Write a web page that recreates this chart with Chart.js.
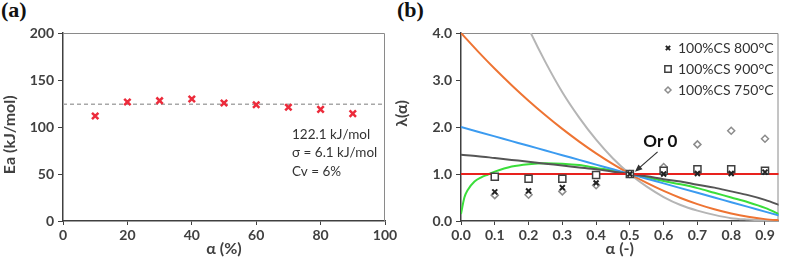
<!DOCTYPE html>
<html>
<head>
<meta charset="utf-8">
<script src="https://cdn.jsdelivr.net/npm/chart.js@4/dist/chart.umd.min.js"></script>
<style>
  body { margin: 0; background: #fff; width: 785px; height: 274px; overflow: hidden; position: relative; }
  .tag { position: absolute; top: -3px; font: bold 22px "Liberation Serif", serif; color: #111; }
  canvas { position: absolute; top: 0; }
</style>
</head>
<body>
<div class="tag" style="left:1px">(a)</div>
<div class="tag" style="left:397px">(b)</div>
<canvas id="chartA" width="400" height="274" style="left:0"></canvas>
<canvas id="chartB" width="393" height="274" style="left:392px"></canvas>
<script>
// panel (a): activation energy vs conversion
const alphaPct = [10, 20, 30, 40, 50, 60, 70, 80, 90];
const eaValues = [111.7, 126.6, 128.0, 129.8, 125.5, 123.7, 121.0, 118.8, 114.2];
const meanX = [0, 100];
const meanEa = [124.1, 124.1];
const statsText = ["122.1 kJ/mol", "σ = 6.1 kJ/mol", "Cv = 6%"];

// panel (b): master plots lambda(alpha)
const alphaGrid = [0, 0.05, 0.1, 0.15, 0.2, 0.25, 0.3, 0.35, 0.4, 0.45, 0.5, 0.55, 0.6, 0.65, 0.7, 0.75, 0.8, 0.85, 0.9, 0.95];
const zeroOrder = [1, 1, 1, 1, 1, 1, 1, 1, 1, 1, 1, 1, 1, 1, 1, 1, 1, 1, 1, 1];
const secondOrder = [4.0, 3.61, 3.24, 2.89, 2.56, 2.25, 1.96, 1.69, 1.44, 1.21, 1.0, 0.81, 0.64, 0.49, 0.36, 0.25, 0.16, 0.09, 0.04, 0.01];
const thirdOrder = [8.0, 6.86, 5.83, 4.91, 4.10, 3.38, 2.74, 2.20, 1.73, 1.33, 1.0, 0.73, 0.51, 0.34, 0.22, 0.13, 0.06, 0.03, 0.01, 0.0];
const firstOrder = [2.0, 1.9, 1.8, 1.7, 1.6, 1.5, 1.4, 1.3, 1.2, 1.1, 1.0, 0.9, 0.8, 0.7, 0.6, 0.5, 0.4, 0.3, 0.2, 0.1];
const halfOrder = [1.41, 1.38, 1.34, 1.30, 1.26, 1.22, 1.18, 1.14, 1.10, 1.05, 1.0, 0.95, 0.89, 0.84, 0.77, 0.71, 0.63, 0.55, 0.45, 0.32];
const avramiAlpha = [0, 0.01, 0.02, 0.04, 0.06, 0.08, 0.1, 0.15, 0.2, 0.25, 0.3, 0.35, 0.4, 0.45, 0.5, 0.55, 0.6, 0.65, 0.7, 0.75, 0.8, 0.85, 0.9, 0.95];
const avramiCurve = [0.15, 0.5, 0.66, 0.84, 0.93, 0.99, 1.05, 1.16, 1.21, 1.23, 1.22, 1.19, 1.13, 1.07, 1.0, 0.93, 0.85, 0.78, 0.70, 0.60, 0.50, 0.40, 0.28, 0.12];

const sampleAlpha = [0.1, 0.2, 0.3, 0.4, 0.5, 0.6, 0.7, 0.8, 0.9];
const cs800 = [0.62, 0.64, 0.71, 0.81, 1.0, 1.0, 1.01, 1.01, 1.04];
const cs900 = [0.94, 0.90, 0.90, 0.98, 1.0, 1.07, 1.10, 1.10, 1.07];
const cs750 = [0.55, 0.56, 0.63, 0.76, 1.0, 1.15, 1.63, 1.92, 1.75];

const toXY = (xs, ys) => xs.map((x, i) => ({ x: x, y: ys[i] }));

const TICK_FONT = { family: "Lato", size: 14, weight: "bold" };
const TITLE_FONT = { family: "Lato", size: 16, weight: "bold" };
const AXIS_DARK = "#404040";

function axis(min, max, step, digits, title, horizontal) {
  return {
    type: "linear",
    min: min,
    max: max,
    grid: { drawOnChartArea: false, drawTicks: true, tickLength: horizontal ? 4 : 5, color: AXIS_DARK },
    border: { color: AXIS_DARK, width: 1.5 },
    ticks: {
      stepSize: step,
      includeBounds: false,
      padding: horizontal ? 2 : 4,
      color: AXIS_DARK,
      font: TICK_FONT,
      callback: (v) => Number(v).toFixed(digits)
    },
    title: {
      display: true,
      text: title,
      color: AXIS_DARK,
      font: TITLE_FONT,
      padding: horizontal ? { top: 0, bottom: 16 } : { top: 0, bottom: 0 }
    },
    afterFit: (scale) => {
      if (horizontal) scale.height = 53;
    }
  };
}

// light frame on top and right of the plot area
const frame = {
  id: "frame",
  beforeDatasetsDraw(chart) {
    const { ctx, chartArea: a } = chart;
    ctx.save();
    ctx.strokeStyle = "#8a8a8a";
    ctx.lineWidth = 1;
    ctx.beginPath();
    ctx.moveTo(a.left, a.top + 0.5);
    ctx.lineTo(a.right - 0.5, a.top + 0.5);
    ctx.lineTo(a.right - 0.5, a.bottom);
    ctx.stroke();
    ctx.restore();
  }
};

// ---------- panel (a) ----------
// trailing spaces push the rotated title a little lower, as in the original
const yA = axis(0, 200, 50, 0, "Ea (kJ/mol)    ", false);
yA.afterFit = (scale) => { scale.width = 63; };

new Chart(document.getElementById("chartA"), {
  data: {
    datasets: [
      {
        type: "scatter",
        data: toXY(alphaPct, eaValues),
        pointStyle: "crossRot",
        pointRadius: 4.5,
        borderColor: "#ec2b3b",
        borderWidth: 2.5,
        order: 0
      },
      {
        type: "line",
        data: toXY(meanX, meanEa),
        borderColor: "#a8a8a8",
        borderWidth: 1.5,
        borderDash: [4, 3],
        pointRadius: 0,
        order: 1
      }
    ]
  },
  options: {
    responsive: false,
    animation: false,
    layout: { padding: { top: 33, right: 15, bottom: 0, left: 0 } },
    plugins: { legend: { display: false }, tooltip: { enabled: false } },
    scales: {
      x: axis(0, 100, 20, 0, "α (%)", true),
      y: yA
    }
  },
  plugins: [frame, {
    id: "stats",
    afterDraw(chart) {
      const ctx = chart.ctx;
      ctx.save();
      ctx.font = "13.5px Lato";
      ctx.fillStyle = "#333";
      ctx.textBaseline = "middle";
      const rows = [135, 153, 172];
      statsText.forEach((t, i) => ctx.fillText(t, 292, rows[i]));
      ctx.restore();
    }
  }]
});

// ---------- panel (b) ----------
// leading spaces lift the rotated title above centre, as in the original
const yB = axis(0, 4, 1, 1, "       λ(α)", false);
yB.afterFit = (scale) => { scale.width = 69; };

function curve(xs, ys, color) {
  return {
    type: "line",
    data: toXY(xs, ys),
    borderColor: color,
    borderWidth: 2,
    pointRadius: 0,
    cubicInterpolationMode: "monotone",
    order: 1
  };
}

const pointSets = [
  { label: "100%CS 800°C", type: "scatter", data: toXY(sampleAlpha, cs800), pointStyle: "crossRot",
    pointRadius: 3.5, borderColor: "#222", backgroundColor: "#222", borderWidth: 2, order: 0 },
  { label: "100%CS 900°C", type: "scatter", data: toXY(sampleAlpha, cs900), pointStyle: "rect",
    pointRadius: 5, borderColor: "#404040", backgroundColor: "#fff", borderWidth: 1.5, order: 0 },
  { label: "100%CS 750°C", type: "scatter", data: toXY(sampleAlpha, cs750), pointStyle: "rectRot",
    pointRadius: 3.5, borderColor: "#8c8c8c", backgroundColor: "#fff", borderWidth: 1.5, order: 0 }
];

const orLabel = { text: "Or 0", alpha: 0.59, lambda: 1.70 };
const orArrow = { fromAlpha: 0.582, fromLambda: 1.47, toAlpha: 0.515, toLambda: 1.05 };

new Chart(document.getElementById("chartB"), {
  data: {
    datasets: pointSets.concat([
      curve(alphaGrid, zeroOrder, "#e8221e"),
      curve(alphaGrid, halfOrder, "#555555"),
      curve(alphaGrid, firstOrder, "#3b9bf0"),
      curve(avramiAlpha, avramiCurve, "#3ade3a"),
      curve(alphaGrid, secondOrder, "#ee7433"),
      curve(alphaGrid, thirdOrder, "#b5b5b5")
    ])
  },
  options: {
    responsive: false,
    animation: false,
    layout: { padding: { top: 33, right: 5, bottom: 0, left: 0 } },
    plugins: { legend: { display: false }, tooltip: { enabled: false } },
    scales: {
      x: axis(0, 0.94, 0.1, 1, "α (-)", true),
      y: yB
    }
  },
  plugins: [frame, {
    id: "annotations",
    afterDraw(chart) {
      const { ctx, scales: { x, y } } = chart;
      ctx.save();
      // "Or 0" label with arrow
      ctx.font = "bold 17px Lato";
      ctx.fillStyle = "#111";
      ctx.textAlign = "center";
      ctx.textBaseline = "middle";
      ctx.fillText(orLabel.text, x.getPixelForValue(orLabel.alpha), y.getPixelForValue(orLabel.lambda));
      const x0 = x.getPixelForValue(orArrow.fromAlpha), y0 = y.getPixelForValue(orArrow.fromLambda);
      const x1 = x.getPixelForValue(orArrow.toAlpha), y1 = y.getPixelForValue(orArrow.toLambda);
      const ang = Math.atan2(y1 - y0, x1 - x0);
      ctx.strokeStyle = "#333";
      ctx.lineWidth = 1.2;
      ctx.beginPath();
      ctx.moveTo(x0, y0);
      ctx.lineTo(x1 - 5 * Math.cos(ang), y1 - 5 * Math.sin(ang));
      ctx.stroke();
      ctx.fillStyle = "#333";
      ctx.beginPath();
      ctx.moveTo(x1, y1);
      ctx.lineTo(x1 - 8 * Math.cos(ang - 0.4), y1 - 8 * Math.sin(ang - 0.4));
      ctx.lineTo(x1 - 8 * Math.cos(ang + 0.4), y1 - 8 * Math.sin(ang + 0.4));
      ctx.closePath();
      ctx.fill();

      // legend inside plot area
      ctx.textAlign = "left";
      ctx.font = "14px Lato";
      const rows = [48, 69, 90];
      const mx = 668 - 392, tx = 678 - 392;
      pointSets.forEach((ds, i) => {
        ctx.strokeStyle = ds.borderColor;
        ctx.fillStyle = ds.backgroundColor;
        ctx.lineWidth = ds.borderWidth;
        Chart.helpers.drawPoint(ctx, { pointStyle: ds.pointStyle, radius: ds.pointRadius - 0.5, rotation: 0, borderWidth: ds.borderWidth }, mx, rows[i]);
        ctx.fillStyle = "#333";
        ctx.fillText(ds.label, tx, rows[i]);
      });
      ctx.restore();
    }
  }]
});
</script>
</body>
</html>
